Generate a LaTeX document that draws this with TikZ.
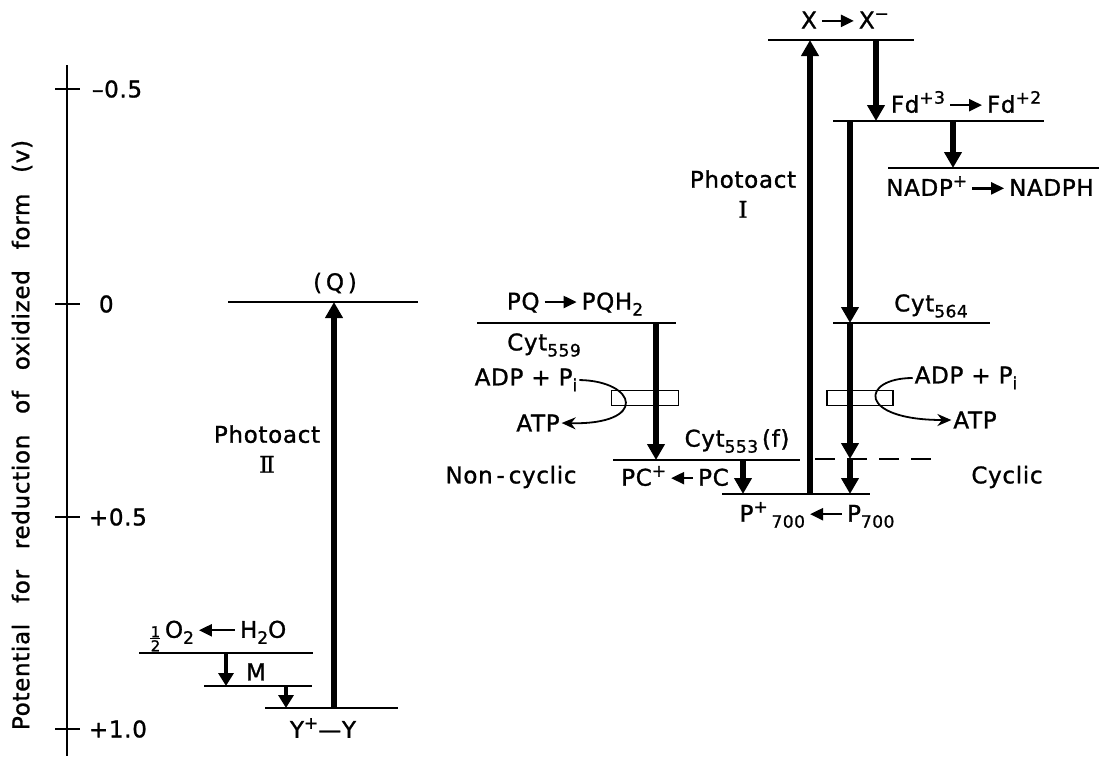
\documentclass[tikz,border=0pt]{standalone}
\usepackage{fontspec}
\setmainfont{DejaVu Sans}[LetterSpace=3,FakeBold=1.2]
\newfontfamily\numfont{DejaVu Serif}[FakeBold=1.2]
\newfontfamily\axisfont{DejaVu Sans}[LetterSpace=3,WordSpace=2.6,FakeBold=1.2]
\usetikzlibrary{arrows.meta}

% arrows, indices and the half inside the reaction labels
\newcommand{\rarr}[1][32pt]{\,\tikz[baseline=-7.5pt]\draw[line width=2.4pt,-{Triangle[length=13pt,width=12pt]}] (0pt,0pt) -- (#1,0pt);\,}
\newcommand{\larr}[1][32pt]{\,\tikz[baseline=-7.5pt]\draw[line width=2.4pt,{Triangle[length=13pt,width=12pt]}-] (0pt,0pt) -- (#1,0pt);\,}
\newcommand{\lo}[1]{\raisebox{-6pt}{\fontsize{17}{17}\selectfont #1}}
\newcommand{\hi}[1]{\raisebox{9pt}{\fontsize{17}{17}\selectfont #1}}
\newcommand{\half}{\raisebox{-3pt}{\tikz[baseline=0pt]{
  \node[inner sep=0pt, font=\fontsize{15}{15}\selectfont] (one) at (0pt,9pt) {1};
  \node[inner sep=0pt, font=\fontsize{15}{15}\selectfont] (two) at (0pt,-5pt) {2};
  \draw[line width=1.4pt] (-5pt,2pt) -- (5pt,2pt);}}\,}

\begin{document}
\begin{tikzpicture}[x=1pt, y=-1pt,
  font=\fontsize{23}{27}\selectfont,
  level/.style={inner sep=0pt, outer sep=0pt, minimum height=0pt, minimum width=#1, anchor=west},
  lvl/.style={line width=2.6pt},
  el/.style={line width=5.5pt, -{Triangle[length=16pt,width=17pt]}},
  sel/.style={line width=4.5pt, -{Triangle[length=13pt,width=15pt]}},
  phos/.style={draw, line width=1.8pt, inner sep=0pt, minimum width=67pt, minimum height=15pt},
  curv/.style={line width=1.8pt, -{Stealth[length=14pt,width=12pt]}},
  lbl/.style={inner sep=0pt, outer sep=2pt}
]
\useasboundingbox (0,0) rectangle (1102,756);

% potential axis
\draw[line width=2.2pt] (67,65) -- (67,756);
\foreach \yy/\xx/\vv in {89/90/--0.5, 304/97/0, 517/87/+0.5, 729/87/+1.0}{
  \draw[line width=2pt] (55,\yy) -- (80,\yy);
  \node[lbl, anchor=west] at (\xx,\yy) {\vv};
}
\node[rotate=90, inner sep=0pt, font=\axisfont\fontsize{23}{27}\selectfont] (ttl) at (22,435) {Potential for reduction of oxidized form (v)};

% energy levels
\node[level=190pt] (Q) at (228,302) {};
\node[level=174pt] (W) at (139,653) {};
\node[level=108pt] (M) at (204,686) {};
\node[level=133pt] (Y) at (265,708) {};
\node[level=199pt] (PQ) at (477,323) {};
\node[level=187pt] (F) at (613,460) {};
\node[level=125pt] (Fc) at (815,459) {};
\node[level=148pt] (P) at (722,494) {};
\node[level=146pt] (X) at (768,40) {};
\node[level=211pt] (Fd) at (833,121) {};
\node[level=211pt] (N) at (888,168) {};
\node[level=157pt] (B) at (833,323) {};
\foreach \l in {Q,W,M,Y,PQ,F,P,X,Fd,N,B}
  \draw[lvl] (\l.west) -- (\l.east);
\draw[lvl, dash pattern=on 20pt off 12pt] (Fc.west) -- (Fc.east);

% labels
\node[lbl] (q) at (335,283) {(\,Q\,)};
\node[lbl] (yy) at (323,728) {Y\hi{+}—Y};
\node[lbl] (w) at (218,636) {\half O\lo{2}\larr[36pt]H\lo{2}O};
\node[lbl] (m) at (256,672) {M};
\node[lbl, align=center] (ps2) at (267,449) {Photoact\\[3pt]{\numfont Ⅱ}};
\node[lbl] (pq) at (575,304) {PQ\rarr PQH\lo{2}};
\node[lbl] (c559) at (544,345) {Cyt\lo{559}};
\node[lbl] (adpL) at (526,380) {ADP + P\lo{i}};
\node[lbl] (atpL) at (538,423) {ATP};
\node[lbl] (c553) at (737,441) {Cyt\lo{553}\,(f)};
\node[lbl] (pc) at (675,476) {PC\hi{+}\larr[22pt]PC};
\node[lbl] (nc) at (511,477) {Non\,-\,cyclic};
\node[lbl] (p700) at (817,515) {P\hi{+}\,\lo{700}\larr P\lo{700}};
\node[lbl, align=center] (ps1) at (743,194) {Photoact\\[3pt]{\numfont I}};
\node[lbl] (x) at (845,20) {X\rarr X\hi{−}};
\node[lbl] (fd) at (966,102) {Fd\hi{+3}\rarr Fd\hi{+2}};
\node[lbl] (nadp) at (990,186) {NADP\hi{+}\rarr NADPH};
\node[lbl] (c564) at (931,306) {Cyt\lo{564}};
\node[lbl] (adpR) at (966,378) {ADP + P\lo{i}};
\node[lbl] (atpR) at (975,420) {ATP};
\node[lbl] (cy) at (1007,477) {Cyclic};

% phosphorylation sites
\node[phos] (phL) at (645,398) {};
\node[phos, minimum width=66pt] (phR) at (860,398) {};
\draw[curv] (adpL.east) .. controls +(58,1) and +(87,2) .. (atpL.east);
\draw[curv] (adpR.west) .. controls +(-52,0) and +(-95,0) .. (atpR.west);

% photoact II and water side
\draw[el] ([xshift=69pt]Y.west) -- ([xshift=106pt]Q.west);
\draw[sel] ([xshift=87pt]W.west) -- ([xshift=22pt]M.west);
\draw[sel] ([xshift=82pt]M.west) -- ([xshift=21pt]Y.west);

% non-cyclic chain
\draw[el] ([xshift=179pt]PQ.west) -- ([xshift=43pt]F.west);
\draw[el] ([xshift=130pt]F.west) -- ([xshift=21pt]P.west);

% photoact I and cyclic chain
\draw[el] ([xshift=88pt]P.west) -- ([xshift=42pt]X.west);
\draw[el] ([xshift=108pt]X.west) -- ([xshift=43pt]Fd.west);
\draw[el] ([xshift=120pt]Fd.west) -- ([xshift=65pt]N.west);
\draw[el] ([xshift=17pt]Fd.west) -- ([xshift=17pt]B.west);
\draw[el] ([xshift=17pt]B.west) -- ([xshift=35pt]Fc.west);
\draw[el] ([xshift=35pt]Fc.west) -- ([xshift=128pt]P.west);
\end{tikzpicture}
\end{document}
